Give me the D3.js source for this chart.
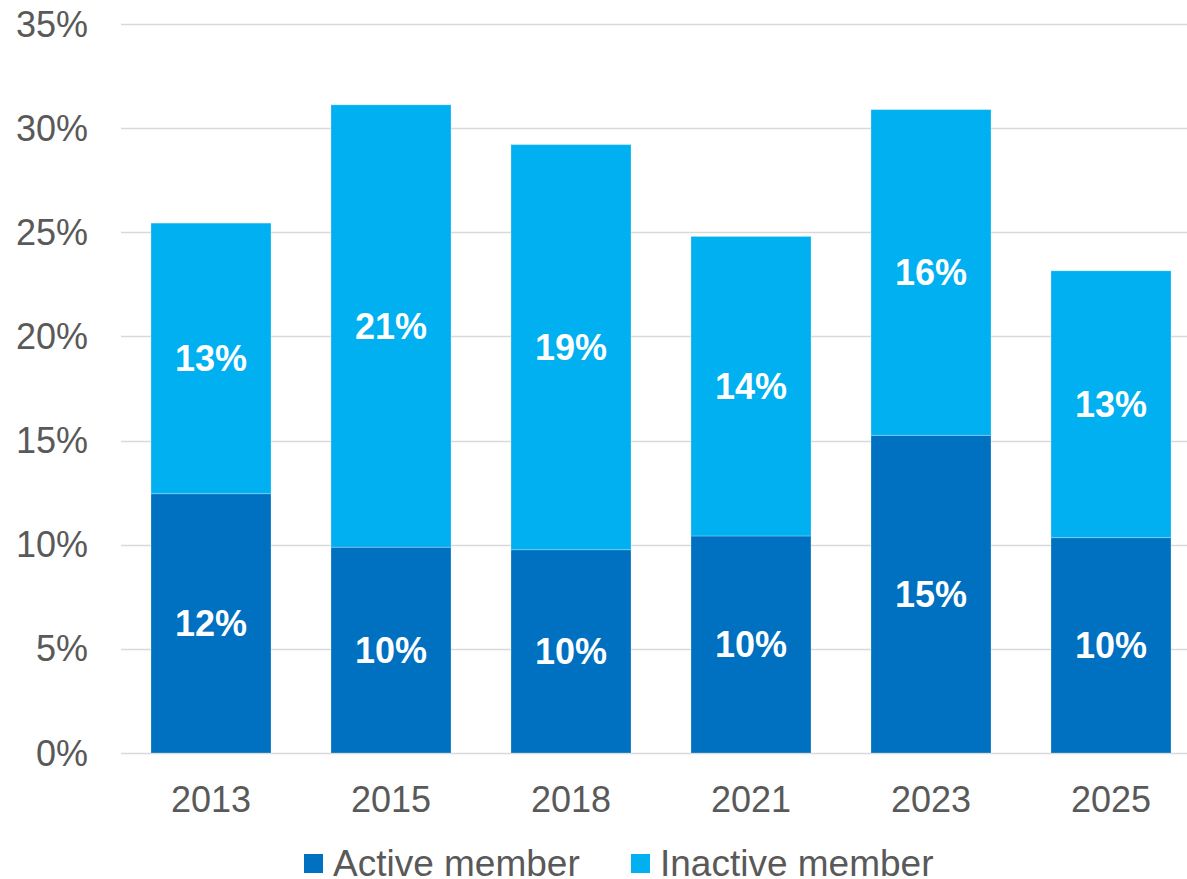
<!DOCTYPE html>
<html>
<head>
<meta charset="utf-8">
<script src="https://cdn.jsdelivr.net/npm/d3@7"></script>
<style>
  body { margin: 0; background: #fff; }
  svg { display: block; font-family: "Liberation Sans", Arial, sans-serif; }
</style>
</head>
<body>
<svg id="chart" width="1187" height="879"></svg>
<script>
// datos
var years = ["2013", "2015", "2018", "2021", "2023", "2025"];
var active = [12.45, 9.88, 9.76, 10.42, 15.25, 10.34];
var inactive = [12.99, 21.24, 19.45, 14.38, 15.64, 12.81];
var yTicks = [0, 5, 10, 15, 20, 25, 30, 35];
var seriesNames = ["Active member", "Inactive member"];
var colors = ["#0070c0", "#00b0f0"];

var svg = d3.select("#chart"),
    margin = {top: 24, left: 121},
    width = 1080,
    height = 729;

var g = svg.append("g").attr("transform", "translate(" + margin.left + "," + margin.top + ")");

var x = d3.scaleBand().domain(years).range([0, width]).paddingInner(1 / 3).paddingOuter(1 / 6);
var y = d3.scaleLinear().domain([0, 35]).range([height, 0]);

var rows = years.map(function(yr, i) { return {year: yr, active: active[i], inactive: inactive[i]}; });
var stacked = d3.stack().keys(["active", "inactive"])(rows);

// lineas de la grilla
g.selectAll(".grid")
  .data(yTicks)
  .enter().append("line")
    .attr("x1", 0)
    .attr("x2", width)
    .attr("y1", function(d) { return Math.round(y(d)) + 0.5; })
    .attr("y2", function(d) { return Math.round(y(d)) + 0.5; })
    .attr("stroke", "#d9d9d9")
    .attr("stroke-width", 1.5);

// etiquetas eje Y
g.selectAll(".ytick")
  .data(yTicks)
  .enter().append("text")
    .attr("x", -33)
    .attr("y", function(d) { return y(d); })
    .attr("dy", "0.35em")
    .attr("text-anchor", "end")
    .attr("font-size", 36)
    .attr("fill", "#595959")
    .text(function(d) { return d + "%"; });

// barras apiladas
var layer = g.selectAll(".layer")
  .data(stacked)
  .enter().append("g")
    .attr("fill", function(d, i) { return colors[i]; });

layer.selectAll("rect")
  .data(function(d) { return d; })
  .enter().append("rect")
    .attr("x", function(d) { return x(d.data.year); })
    .attr("y", function(d) { return y(d[1]); })
    .attr("width", x.bandwidth())
    .attr("height", function(d) { return y(d[0]) - y(d[1]); })
    .attr("stroke", "#ffffff")
    .attr("stroke-opacity", 0.25)
    .attr("stroke-width", 1);

layer.selectAll("text")
  .data(function(d) { return d; })
  .enter().append("text")
    .attr("x", function(d) { return x(d.data.year) + x.bandwidth() / 2; })
    .attr("y", function(d) { return (y(d[0]) + y(d[1])) / 2; })
    .attr("dy", "0.35em")
    .attr("text-anchor", "middle")
    .attr("font-size", 36)
    .attr("font-weight", "bold")
    .attr("fill", "#ffffff")
    .text(function(d) { return Math.round(d[1] - d[0]) + "%"; });

// eje X
g.selectAll(".xtick")
  .data(years)
  .enter().append("text")
    .attr("x", function(d) { return x(d) + x.bandwidth() / 2; })
    .attr("y", 788)
    .attr("text-anchor", "middle")
    .attr("font-size", 36)
    .attr("fill", "#595959")
    .text(function(d) { return d; });

// leyenda
var legendX = [304, 631];
var legend = svg.selectAll(".legend")
  .data(seriesNames)
  .enter().append("g")
    .attr("transform", function(d, i) { return "translate(" + legendX[i] + ",854)"; });
legend.append("rect")
    .attr("width", 19)
    .attr("height", 19)
    .attr("fill", function(d, i) { return colors[i]; });
legend.append("text")
    .attr("x", 29)
    .attr("y", 22)
    .attr("font-size", 37)
    .attr("fill", "#595959")
    .text(function(d) { return d; });
</script>
</body>
</html>
